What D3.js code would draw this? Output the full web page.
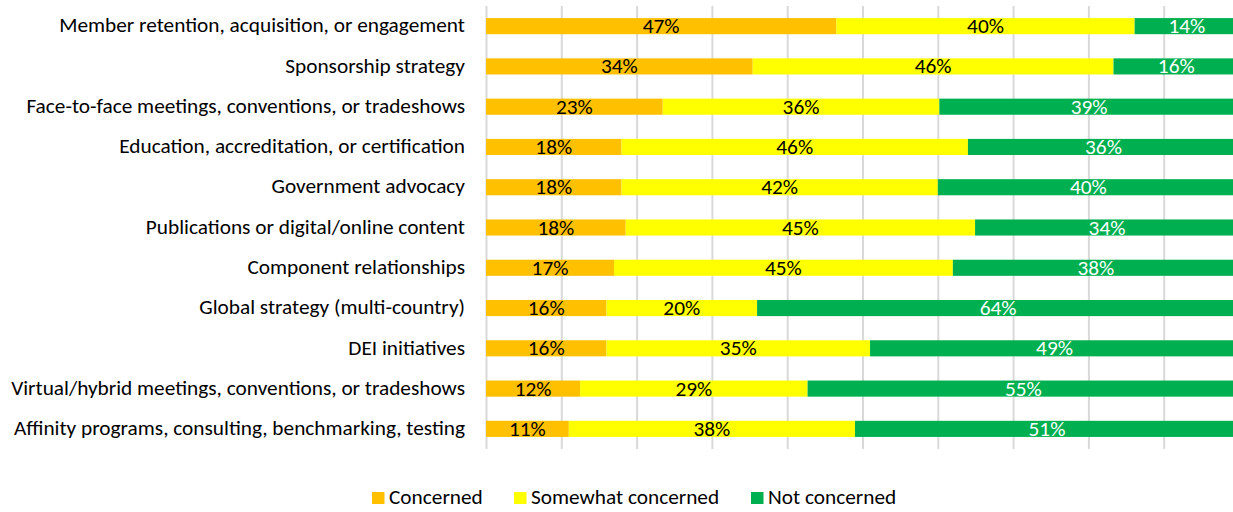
<!DOCTYPE html>
<html>
<head>
<meta charset="utf-8">
<script src="https://cdn.jsdelivr.net/npm/d3@7"></script>
<style>
  html, body { margin: 0; padding: 0; background: #fff; }
  svg { display: block; }
  text { font-family: Carlito, Calibri, "Open Sans", sans-serif; }
</style>
</head>
<body>
<svg id="chart" width="1233" height="512"></svg>
<script>
// Survey responses: level of concern per area (percent of respondents)
const categories = [
  "Member retention, acquisition, or engagement",
  "Sponsorship strategy",
  "Face-to-face meetings, conventions, or tradeshows",
  "Education, accreditation, or certification",
  "Government advocacy",
  "Publications or digital/online content",
  "Component relationships",
  "Global strategy (multi-country)",
  "DEI initiatives",
  "Virtual/hybrid meetings, conventions, or tradeshows",
  "Affinity programs, consulting, benchmarking, testing"
];
const concerned         = [47, 34, 23, 18, 18, 18, 17, 16, 16, 12, 11];
const somewhatConcerned = [40, 46, 36, 46, 42, 45, 45, 20, 35, 29, 38];
const notConcerned      = [14, 16, 39, 36, 40, 34, 38, 64, 49, 55, 51];

const seriesNames = ["Concerned", "Somewhat concerned", "Not concerned"];
const seriesColors = ["#FFC000", "#FFFF00", "#00B050"];
const labelColors = ["#000000", "#000000", "#FFFFFF"];

const rows = categories.map((c, i) => ({
  category: c,
  "Concerned": concerned[i],
  "Somewhat concerned": somewhatConcerned[i],
  "Not concerned": notConcerned[i]
}));

const svg = d3.select("#chart");
const plot = { left: 486, right: 1239, top: 6, bottom: 449 };
const fontSize = 21.3;

// 100% stacked: each row normalised to its own total
const stack = d3.stack().keys(seriesNames).offset(d3.stackOffsetExpand);
const layers = stack(rows);

const x = d3.scaleLinear().domain([0, 1]).range([plot.left, plot.right]);
const y = d3.scaleBand().domain(categories).range([plot.top, plot.bottom]).paddingInner(0.6).paddingOuter(0.3);

// vertical gridlines
const gx = d3.axisBottom(x).ticks(10).tickSize(-(plot.bottom - plot.top)).tickFormat("");
const grid = svg.append("g").attr("transform", `translate(0,${plot.bottom})`).call(gx);
grid.select(".domain").remove();
grid.selectAll(".tick line").attr("stroke", "#d9d9d9").attr("stroke-width", 2);

// category axis labels
const gy = d3.axisLeft(y).tickSize(0).tickPadding(21);
const ya = svg.append("g").attr("transform", `translate(${plot.left},0)`).call(gy);
ya.select(".domain").remove();
ya.selectAll("text").attr("font-size", fontSize).attr("fill", "#000").attr("font-family", null)
  .attr("dy", "0.29em");

// bars
const layerG = svg.append("g").selectAll("g").data(layers).join("g")
  .attr("fill", (d, i) => seriesColors[i]);

layerG.selectAll("rect").data(d => d).join("rect")
  .attr("x", d => x(d[0]))
  .attr("y", d => y(d.data.category))
  .attr("width", d => x(d[1]) - x(d[0]))
  .attr("height", y.bandwidth());

// value labels
layers.forEach((layer, i) => {
  svg.append("g").selectAll("text").data(layer).join("text")
    .attr("x", d => (x(d[0]) + x(d[1])) / 2)
    .attr("y", d => y(d.data.category) + y.bandwidth() / 2)
    .attr("dy", "0.33em")
    .attr("text-anchor", "middle")
    .attr("font-size", fontSize)
    .attr("fill", labelColors[i])
    .text(d => d.data[layer.key] + "%");
});

// legend
const legendX = [372, 514, 751];
const legend = svg.append("g").selectAll("g").data(seriesNames).join("g")
  .attr("transform", (d, i) => `translate(${legendX[i]},492)`);
legend.append("rect").attr("width", 12.5).attr("height", 12).attr("fill", (d, i) => seriesColors[i]);
legend.append("text").attr("x", 17).attr("y", 12)
  .attr("font-size", fontSize).attr("fill", "#000").text(d => d);
</script>
</body>
</html>
